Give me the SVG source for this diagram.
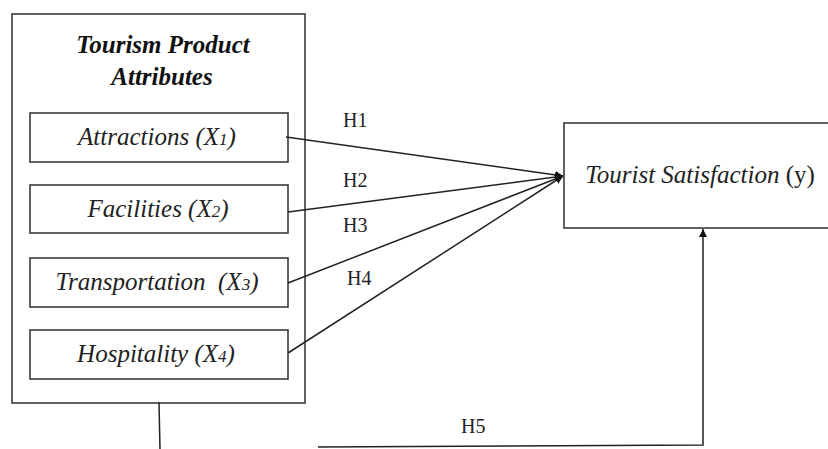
<svg xmlns="http://www.w3.org/2000/svg" width="828" height="449" viewBox="0 0 828 449">
<style>
  .box { fill: #fff; stroke: #3a3a3a; stroke-width: 1.6; }
  .lbl { font-family: "Liberation Serif", "Times New Roman", serif; font-style: italic; font-size: 25px; fill: #222; text-anchor: middle; }
  .title { font-family: "Liberation Serif", "Times New Roman", serif; font-style: italic; font-weight: bold; font-size: 25px; fill: #111; text-anchor: middle; }
  .h { font-family: "Liberation Serif", "Times New Roman", serif; font-size: 20px; fill: #222; }
  .sub { font-size: 17px; }
  .con { fill: none; stroke: #222; stroke-width: 1.5; }
</style>
<defs>
  <marker id="arr" viewBox="0 0 10 10" refX="10" refY="5" markerWidth="8" markerHeight="8" markerUnits="userSpaceOnUse" orient="auto">
    <path d="M0,0 L10,5 L0,10 z" fill="#111"/>
  </marker>
</defs>
<rect width="828" height="449" fill="#fff"/>
<g id="outer">
  <rect class="box" x="12" y="14" width="293" height="389"/>
  <text class="title" x="163" y="53">Tourism Product</text>
  <text class="title" x="162" y="85">Attributes</text>
</g>
<g id="attractions">
  <rect class="box" x="30" y="113" width="258" height="49"/>
  <text class="lbl" x="157" y="145">Attractions (X<tspan class="sub">1</tspan>)</text>
</g>
<g id="facilities">
  <rect class="box" x="30" y="185" width="258" height="48"/>
  <text class="lbl" x="158" y="217">Facilities (X<tspan class="sub">2</tspan>)</text>
</g>
<g id="transportation">
  <rect class="box" x="30" y="258" width="258" height="49"/>
  <text class="lbl" x="157" y="290" xml:space="preserve">Transportation  (X<tspan class="sub">3</tspan>)</text>
</g>
<g id="hospitality">
  <rect class="box" x="30" y="330" width="258" height="49"/>
  <text class="lbl" x="156" y="362">Hospitality (X<tspan class="sub">4</tspan>)</text>
</g>
<g id="satisfaction">
  <rect class="box" x="564" y="123" width="270" height="105"/>
  <text class="lbl" x="700" y="183" style="text-anchor:middle">Tourist Satisfaction <tspan font-style="normal">(y)</tspan></text>
</g>
<g id="connectors">
  <line class="con" x1="286" y1="137" x2="563" y2="176" marker-end="url(#arr)"/>
  <line class="con" x1="288" y1="212" x2="563" y2="176" marker-end="url(#arr)"/>
  <line class="con" x1="288" y1="283" x2="563" y2="176" marker-end="url(#arr)"/>
  <line class="con" x1="288" y1="353" x2="563" y2="176" marker-end="url(#arr)"/>
  <line class="con" x1="159" y1="402" x2="160" y2="449"/>
  <polyline class="con" points="318,447 703,445 703,229" marker-end="url(#arr)"/>
  <text class="h" x="343" y="127">H1</text>
  <text class="h" x="343" y="187">H2</text>
  <text class="h" x="343" y="232">H3</text>
  <text class="h" x="347" y="285">H4</text>
  <text class="h" x="461" y="433">H5</text>
</g>
</svg>
